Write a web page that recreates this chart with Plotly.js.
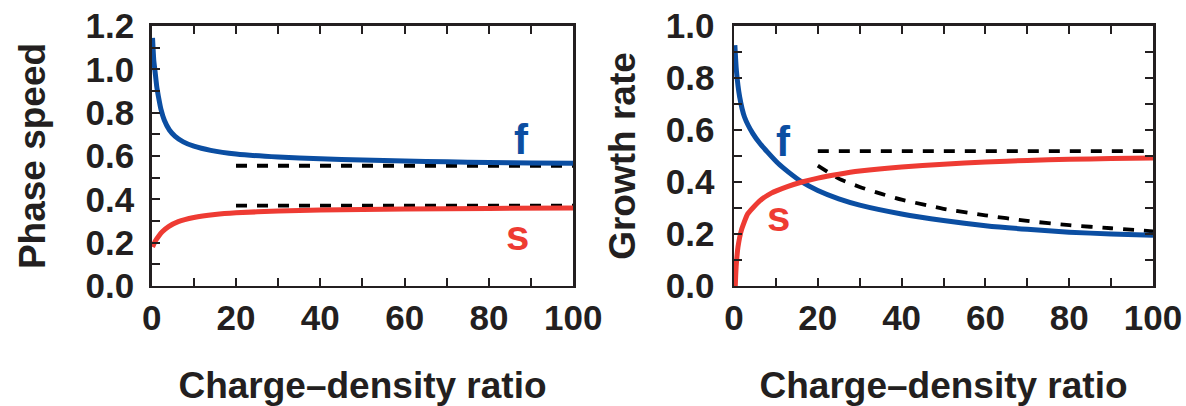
<!DOCTYPE html>
<html>
<head>
<meta charset="utf-8">
<script src="https://cdn.plot.ly/plotly-3.0.1.min.js"></script>
<style>html,body{margin:0;padding:0;background:#fff;}#chart{width:1186px;height:406px;}</style>
</head>
<body>
<div id="chart"></div>
<script>
// ---- Left panel: phase speed ----
const phaseFx = [0.2, 0.5, 0.8, 1.2, 1.6, 2.2, 3, 4.2, 5.5, 7.5, 10, 14, 20, 30, 40, 50, 60, 70, 80, 90, 100];
const phaseFy = [1.145, 1.04, 0.99, 0.92, 0.874, 0.815, 0.765, 0.72, 0.692, 0.665, 0.645, 0.626, 0.609, 0.595, 0.587, 0.581, 0.577, 0.573, 0.570, 0.568, 0.566];
const phaseSx = [0.2, 0.8, 1.6, 2.5, 4, 6.3, 10, 15, 20, 30, 40, 50, 60, 80, 100];
const phaseSy = [0.18, 0.205, 0.228, 0.25, 0.274, 0.297, 0.316, 0.33, 0.338, 0.346, 0.351, 0.353, 0.355, 0.358, 0.36];
const phaseAsymFx = [20, 100];
const phaseAsymFy = [0.555, 0.555];
const phaseAsymSx = [20, 100];
const phaseAsymSy = [0.371, 0.371];

// ---- Right panel: growth rate ----
const growthFx = [0.2, 0.56, 1.35, 2.5, 4.5, 6.2, 8, 10.5, 13, 16.2, 20, 25, 30, 40, 50, 60, 70, 80, 90, 100];
const growthFy = [0.926, 0.83, 0.727, 0.65, 0.586, 0.548, 0.515, 0.472, 0.438, 0.4, 0.367, 0.335, 0.311, 0.277, 0.252, 0.232, 0.218, 0.207, 0.2, 0.195];
const growthSx = [0.3, 0.4, 0.56, 0.95, 1.75, 3.3, 6.2, 8.9, 12.9, 16.2, 20, 25, 30, 40, 50, 60, 70, 80, 90, 100];
const growthSy = [0.0, 0.04, 0.086, 0.15, 0.214, 0.278, 0.328, 0.357, 0.383, 0.4, 0.415, 0.43, 0.442, 0.458, 0.468, 0.477, 0.483, 0.487, 0.49, 0.492];
const growthAsymSx = [20, 100];
const growthAsymSy = [0.519, 0.519];
const growthAsymFx = [20, 25, 30, 35, 40, 50, 60, 70, 80, 90, 100];
const growthAsymFy = [0.463, 0.413, 0.381, 0.355, 0.332, 0.297, 0.272, 0.25, 0.234, 0.222, 0.21];

// ---- Tick labels ----
const xTickVals = [0, 10, 20, 30, 40, 50, 60, 70, 80, 90, 100];
const xTickText = ['0', '', '20', '', '40', '', '60', '', '80', '', '100'];
const phaseTickVals = [0, 0.1, 0.2, 0.3, 0.4, 0.5, 0.6, 0.7, 0.8, 0.9, 1.0, 1.1, 1.2];
const phaseTickText = ['0.0', '', '0.2', '', '0.4', '', '0.6', '', '0.8', '', '1.0', '', '1.2'];
const growthTickVals = [0, 0.1, 0.2, 0.3, 0.4, 0.5, 0.6, 0.7, 0.8, 0.9, 1.0];
const growthTickText = ['0.0', '', '0.2', '', '0.4', '', '0.6', '', '0.8', '', '1.0'];
const xTitle = 'Charge\u2013density ratio';
const phaseTitle = 'Phase speed';
const growthTitle = 'Growth rate';

const BLUE = '#0b4ea2', RED = '#ee3b33', INK = '#231f20';
const FONT = 'Liberation Sans, Arial, Helvetica, sans-serif';

function curve(x, y, color, xa, ya) {
  return {x: x, y: y, xaxis: xa, yaxis: ya, mode: 'lines', type: 'scatter',
    line: {color: color, width: 5, shape: 'spline', smoothing: 0.5}, hoverinfo: 'skip', showlegend: false};
}
function dashed(x, y, xa, ya) {
  return {x: x, y: y, xaxis: xa, yaxis: ya, mode: 'lines', type: 'scatter',
    line: {color: '#000', width: 3.8, dash: '11px,10px', shape: 'spline', smoothing: 0.5}, hoverinfo: 'skip', showlegend: false};
}

const data = [
  dashed(phaseAsymFx, phaseAsymFy, 'x', 'y'),
  dashed(phaseAsymSx, phaseAsymSy, 'x', 'y'),
  curve(phaseFx, phaseFy, BLUE, 'x', 'y'),
  curve(phaseSx, phaseSy, RED, 'x', 'y'),
  dashed(growthAsymSx, growthAsymSy, 'x2', 'y2'),
  dashed(growthAsymFx, growthAsymFy, 'x2', 'y2'),
  curve(growthFx, growthFy, BLUE, 'x2', 'y2'),
  curve(growthSx, growthSy, RED, 'x2', 'y2')
];

const tickFont = {family: FONT, size: 35, color: INK, weight: 'bold'};
const titleFont = {family: FONT, size: 37, color: INK, weight: 'bold'};

function xAxis(domain, anchor) {
  return {domain: domain, anchor: anchor, range: [0, 100], tickmode: 'array', tickvals: xTickVals, ticktext: xTickText,
    ticks: 'inside', ticklen: 8, tickwidth: 2, tickcolor: INK, showline: true, linewidth: 2.5, linecolor: INK,
    mirror: 'ticks', showgrid: false, zeroline: false, tickfont: tickFont, ticklabelstandoff: 0,
    title: {text: xTitle, font: titleFont, standoff: 36}, automargin: false, fixedrange: true};
}

const yDomain = [0.2956, 0.936];

const layout = {
  width: 1186, height: 406,
  margin: {l: 0, r: 0, t: 0, b: 0},
  paper_bgcolor: '#fff', plot_bgcolor: '#fff',
  showlegend: false,
  xaxis: xAxis([0.1279, 0.4834], 'y'),
  xaxis2: xAxis([0.6189, 0.9722], 'y2'),
  yaxis: {domain: yDomain, anchor: 'x', range: [0, 1.2], tickmode: 'array', tickvals: phaseTickVals, ticktext: phaseTickText,
    ticks: 'inside', ticklen: 8, tickwidth: 2, tickcolor: INK, showline: true, linewidth: 2.5, linecolor: INK,
    mirror: true, showgrid: false, zeroline: false, tickfont: tickFont, ticklabelstandoff: 8,
    title: {text: phaseTitle, font: titleFont, standoff: 29}, automargin: false, fixedrange: true},
  yaxis3: {domain: yDomain, anchor: 'x', overlaying: 'y', side: 'right', range: [0, 1.0], tickmode: 'array',
    tickvals: [0.1, 0.2, 0.3, 0.4, 0.5, 0.6, 0.7, 0.8, 0.9], showticklabels: false,
    ticks: 'inside', ticklen: 8, tickwidth: 2, tickcolor: INK, showline: false, showgrid: false, zeroline: false, fixedrange: true},
  yaxis2: {domain: yDomain, anchor: 'x2', range: [0, 1.0], tickmode: 'array', tickvals: growthTickVals, ticktext: growthTickText,
    ticks: 'inside', ticklen: 8, tickwidth: 2, tickcolor: INK, showline: true, linewidth: 2.5, linecolor: INK,
    mirror: 'ticks', showgrid: false, zeroline: false, tickfont: tickFont, ticklabelstandoff: 10,
    title: {text: growthTitle, font: titleFont, standoff: 19}, automargin: false, fixedrange: true},
  annotations: [
    {xref: 'x', yref: 'y', x: 87.7, y: 0.674, text: 'f', showarrow: false, font: {family: FONT, size: 42, color: BLUE, weight: 'bold'}},
    {xref: 'x', yref: 'y', x: 86.8, y: 0.233, text: 's', showarrow: false, font: {family: FONT, size: 42, color: RED, weight: 'bold'}},
    {xref: 'x2', yref: 'y2', x: 11.7, y: 0.557, text: 'f', showarrow: false, font: {family: FONT, size: 42, color: BLUE, weight: 'bold'}},
    {xref: 'x2', yref: 'y2', x: 10.7, y: 0.266, text: 's', showarrow: false, font: {family: FONT, size: 42, color: RED, weight: 'bold'}}
  ]
};

Plotly.newPlot('chart', data, layout, {staticPlot: true, displayModeBar: false});
</script>
</body>
</html>
